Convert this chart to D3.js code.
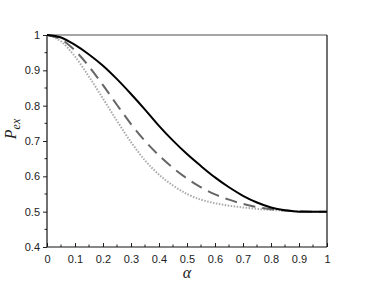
<!DOCTYPE html>
<meta charset="utf-8">
<style>
body { margin: 0; background: #fff; }
.tick text { font-family: "Liberation Sans", Arial, sans-serif; font-size: 11px; fill: #222; }
.lbl { font-family: "Liberation Serif", "DejaVu Serif", serif; font-style: italic; fill: #222; }
</style>
<svg width="374" height="282"></svg>
<script src="https://cdn.jsdelivr.net/npm/d3@7"></script>
<script>

var alpha = [0, 0.05, 0.1, 0.15, 0.2, 0.25, 0.3, 0.35, 0.4, 0.45, 0.5,
             0.55, 0.6, 0.65, 0.7, 0.75, 0.8, 0.85, 0.9, 0.95, 1];
var solid  = [1, 0.993, 0.972, 0.945, 0.913, 0.875, 0.833, 0.789, 0.743, 0.701, 0.663,
              0.629, 0.597, 0.569, 0.545, 0.526, 0.512, 0.504, 0.500, 0.500, 0.500];
var dashed = [1, 0.988, 0.956, 0.911, 0.858, 0.802, 0.748, 0.700, 0.659, 0.624, 0.594,
              0.569, 0.549, 0.534, 0.522, 0.513, 0.507, 0.503, 0.501, 0.500, 0.500];
var dotted = [1, 0.982, 0.939, 0.882, 0.820, 0.757, 0.697, 0.645, 0.605, 0.574, 0.550,
              0.534, 0.524, 0.517, 0.512, 0.508, 0.505, 0.503, 0.501, 0.500, 0.500];
var xTicks = [0, 0.1, 0.2, 0.3, 0.4, 0.5, 0.6, 0.7, 0.8, 0.9, 1];
var yTicks = [0.4, 0.5, 0.6, 0.7, 0.8, 0.9, 1];

var svg = d3.select("svg"),
    margin = {top: 35, right: 47, bottom: 35, left: 47},
    width = +svg.attr("width") - margin.left - margin.right,
    height = +svg.attr("height") - margin.top - margin.bottom;

var x = d3.scaleLinear().domain([0, 1]).range([0, width]),
    y = d3.scaleLinear().domain([0.4, 1]).range([height, 0]);

var g = svg.append("g")
    .attr("transform", "translate(" + margin.left + "," + margin.top + ")");

// minor ticks
var minorX = d3.range(0.05, 1, 0.1), minorY = d3.range(0.45, 1, 0.1);
g.selectAll(".mx").data(minorX).enter().append("line")
    .attr("x1", d => x(d)).attr("x2", d => x(d))
    .attr("y1", height).attr("y2", height - 2.5)
    .attr("stroke", "#222");
g.selectAll(".my").data(minorY).enter().append("line")
    .attr("x1", 0).attr("x2", -2.5)
    .attr("y1", d => y(d)).attr("y2", d => y(d))
    .attr("stroke", "#222");

var xAxis = g.append("g")
    .attr("transform", "translate(0," + height + ")")
    .call(d3.axisBottom(x).tickValues(xTicks).tickSize(-4).tickPadding(8)
      .tickFormat(d3.format("")));
var yAxis = g.append("g")
    .call(d3.axisLeft(y).tickValues(yTicks).tickSize(4).tickPadding(3)
      .tickFormat(d3.format("")));
xAxis.select(".domain").remove();
yAxis.select(".domain").remove();
g.selectAll(".tick line").attr("stroke", "#222");

// frame
g.append("line").attr("x1", 0).attr("x2", width).attr("y1", 0).attr("y2", 0)
    .attr("stroke", "#888").attr("stroke-width", 1.5);
g.append("line").attr("x1", width).attr("x2", width).attr("y1", 0).attr("y2", height)
    .attr("stroke", "#111").attr("stroke-width", 1.2);
g.append("line").attr("x1", 0).attr("x2", width).attr("y1", height).attr("y2", height)
    .attr("stroke", "#111").attr("stroke-width", 1.2);
g.append("line").attr("x1", 0).attr("x2", 0).attr("y1", 0).attr("y2", height)
    .attr("stroke", "#111").attr("stroke-width", 1.2);

var line = d3.line().curve(d3.curveMonotoneX)
    .x(d => x(d[0])).y(d => y(d[1]));

var series = [
  {vals: dotted, color: "#aaa", w: 2, dash: "1.5,1.5"},
  {vals: dashed, color: "#666", w: 2, dash: "12,7"},
  {vals: solid,  color: "#000", w: 2, dash: null}
];
series.forEach(function(s) {
  g.append("path")
    .datum(alpha.map((a, i) => [a, s.vals[i]]))
    .attr("fill", "none")
    .attr("stroke", s.color)
    .attr("stroke-width", s.w)
    .attr("stroke-dasharray", s.dash)
    .attr("d", line);
});

// axis labels
svg.append("text").attr("class", "lbl")
    .attr("x", margin.left + width / 2).attr("y", 278)
    .attr("text-anchor", "middle").attr("font-size", 16)
    .text("α");
var yl = svg.append("text").attr("class", "lbl")
    .attr("transform", "translate(16," + (margin.top + height / 2 - 12) + ") rotate(-90)")
    .attr("text-anchor", "middle").attr("font-size", 16);
yl.append("tspan").text("P");
yl.append("tspan").attr("font-size", 12).attr("dy", 4).text("ex");

</script>
